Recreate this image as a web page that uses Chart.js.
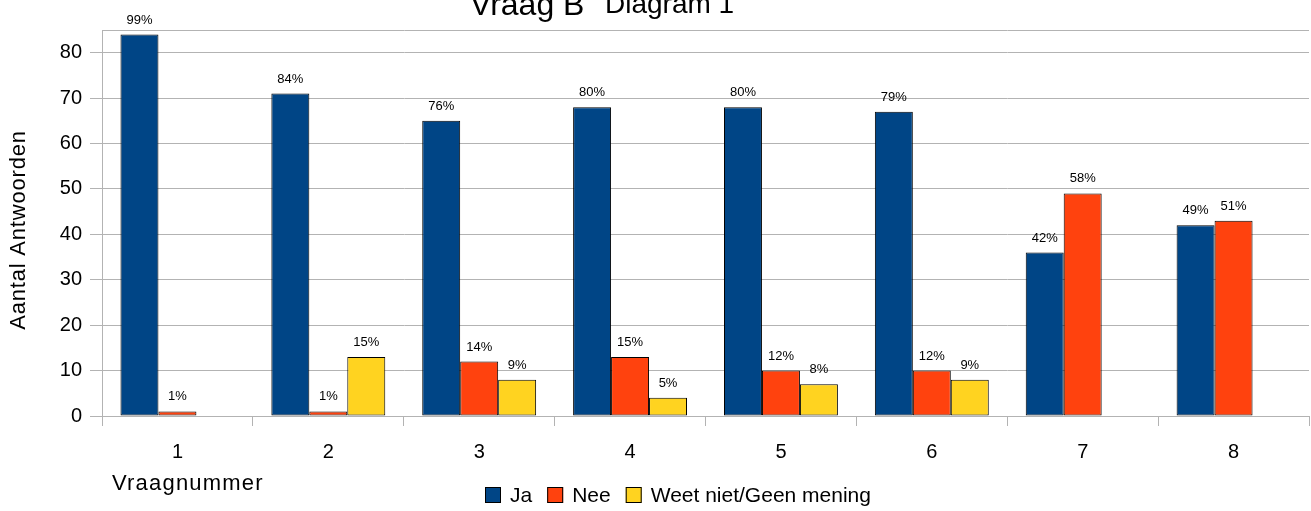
<!DOCTYPE html>
<html>
<head>
<meta charset="utf-8">
<script src="https://cdn.jsdelivr.net/npm/chart.js@4.4.0/dist/chart.umd.min.js"></script>
<style>
  html, body { margin: 0; padding: 0; background: #fff; }
  #wrap { width: 1311px; height: 511px; position: relative; }
</style>
</head>
<body>
<div id="wrap"><canvas id="chart"></canvas></div>
<script>
// data
const categories = ["1", "2", "3", "4", "5", "6", "7", "8"];
const seriesNames = ["Ja", "Nee", "Weet niet/Geen mening"];
const jaValues = [84, 71, 65, 68, 68, 67, 36, 42];
const neeValues = [1, 1, 12, 13, 10, 10, 49, 43];
const weetValues = [null, 13, 8, 4, 7, 8, null, null];
const jaPct = ["99%", "84%", "76%", "80%", "80%", "79%", "42%", "49%"];
const neePct = ["1%", "1%", "14%", "15%", "12%", "12%", "58%", "51%"];
const weetPct = ["", "15%", "9%", "5%", "8%", "9%", "", ""];
const yTicks = [0, 10, 20, 30, 40, 50, 60, 70, 80];

const colors = ["#004586", "#ff420e", "#ffd320"];
const FONT = "'Liberation Sans', Arial, sans-serif";
const pctLabels = [jaPct, neePct, weetPct];

// percent labels above bars
const barLabels = {
    id: 'barLabels',
    afterDatasetsDraw(chart) {
        const ctx = chart.ctx;
        ctx.save();
        ctx.font = "13px " + FONT;
        ctx.fillStyle = "#000";
        ctx.textAlign = "center";
        ctx.textBaseline = "alphabetic";
        chart.data.datasets.forEach((ds, i) => {
            chart.getDatasetMeta(i).data.forEach((bar, j) => {
                if (ds.data[j] === null) return;
                const txt = pctLabels[i][j];
                if (txt) ctx.fillText(txt, bar.x, bar.y - 11);
            });
        });
        ctx.restore();
    }
};

// title, axis titles and legend
const extras = {
    id: 'extras',
    afterDraw(chart) {
        const ctx = chart.ctx;
        ctx.save();
        ctx.fillStyle = "#000";
        ctx.textBaseline = "alphabetic";
        ctx.textAlign = "left";
        ctx.font = "32px " + FONT;
        ctx.fillText("Vraag B", 470, 15);
        ctx.font = "28px " + FONT;
        ctx.fillText("Diagram 1", 605, 13);

        // x title
        ctx.font = "22px " + FONT;
        ctx.letterSpacing = "1.2px";
        ctx.fillText("Vraagnummer", 112, 490);

        // y title
        ctx.save();
        ctx.translate(25, 230);
        ctx.rotate(-Math.PI / 2);
        ctx.textAlign = "center";
        ctx.font = "22px " + FONT;
        ctx.letterSpacing = "0.8px";
        ctx.fillText("Aantal Antwoorden", 0, 0);
        ctx.restore();

        // legend
        ctx.letterSpacing = "0px";
        ctx.font = "21px " + FONT;
        let x = 485;
        const yc = 495;
        seriesNames.forEach((name, i) => {
            ctx.fillStyle = colors[i];
            ctx.fillRect(x, yc - 8, 16, 16);
            ctx.strokeStyle = "#000";
            ctx.lineWidth = 1;
            ctx.strokeRect(x + 0.5, yc - 7.5, 15, 15);
            ctx.fillStyle = "#000";
            ctx.textBaseline = "middle";
            ctx.fillText(name, x + 25, yc + 1);
            x += 25 + ctx.measureText(name).width + 15;
        });
        ctx.restore();
    }
};

new Chart(document.getElementById("chart"), {
    type: "bar",
    data: {
        labels: categories,
        datasets: [jaValues, neeValues, weetValues].map((vals, i) => ({
            label: seriesNames[i],
            data: vals,
            backgroundColor: colors[i],
            borderColor: "#000",
            borderWidth: 1,
            borderSkipped: false,
            categoryPercentage: 0.755,
            barPercentage: 1
        }))
    },
    options: {
        responsive: true,
        maintainAspectRatio: false,
        animation: false,
        layout: { padding: { top: 30, right: 2, bottom: 0, left: 0 } },
        plugins: {
            legend: { display: false },
            title: { display: false },
            tooltip: { enabled: false }
        },
        scales: {
            x: {
                offset: true,
                grid: {
                    drawOnChartArea: false,
                    color: "#b3b3b3",
                    tickLength: 10,
                    offset: true
                },
                border: { color: "#b3b3b3" },
                ticks: {
                    color: "#000",
                    font: { family: FONT, size: 20 },
                    padding: 14
                },
                afterFit: s => { s.height = 95; }
            },
            y: {
                min: 0,
                max: 85,
                afterBuildTicks: s => { s.ticks = yTicks.concat([85]).map(v => ({ value: v })); },
                grid: {
                    color: "#b3b3b3",
                    tickLength: 12,
                    tickColor: c => (c.tick && c.tick.value === 85) ? "rgba(0,0,0,0)" : "#b3b3b3"
                },
                border: { color: "#b3b3b3" },
                ticks: {
                    color: "#000",
                    font: { family: FONT, size: 20 },
                    padding: 8,
                    callback: v => (yTicks.includes(v) ? String(v) : "")
                },
                afterFit: s => { s.width = 102; }
            }
        }
    },
    plugins: [barLabels, extras]
});
</script>
</body>
</html>
